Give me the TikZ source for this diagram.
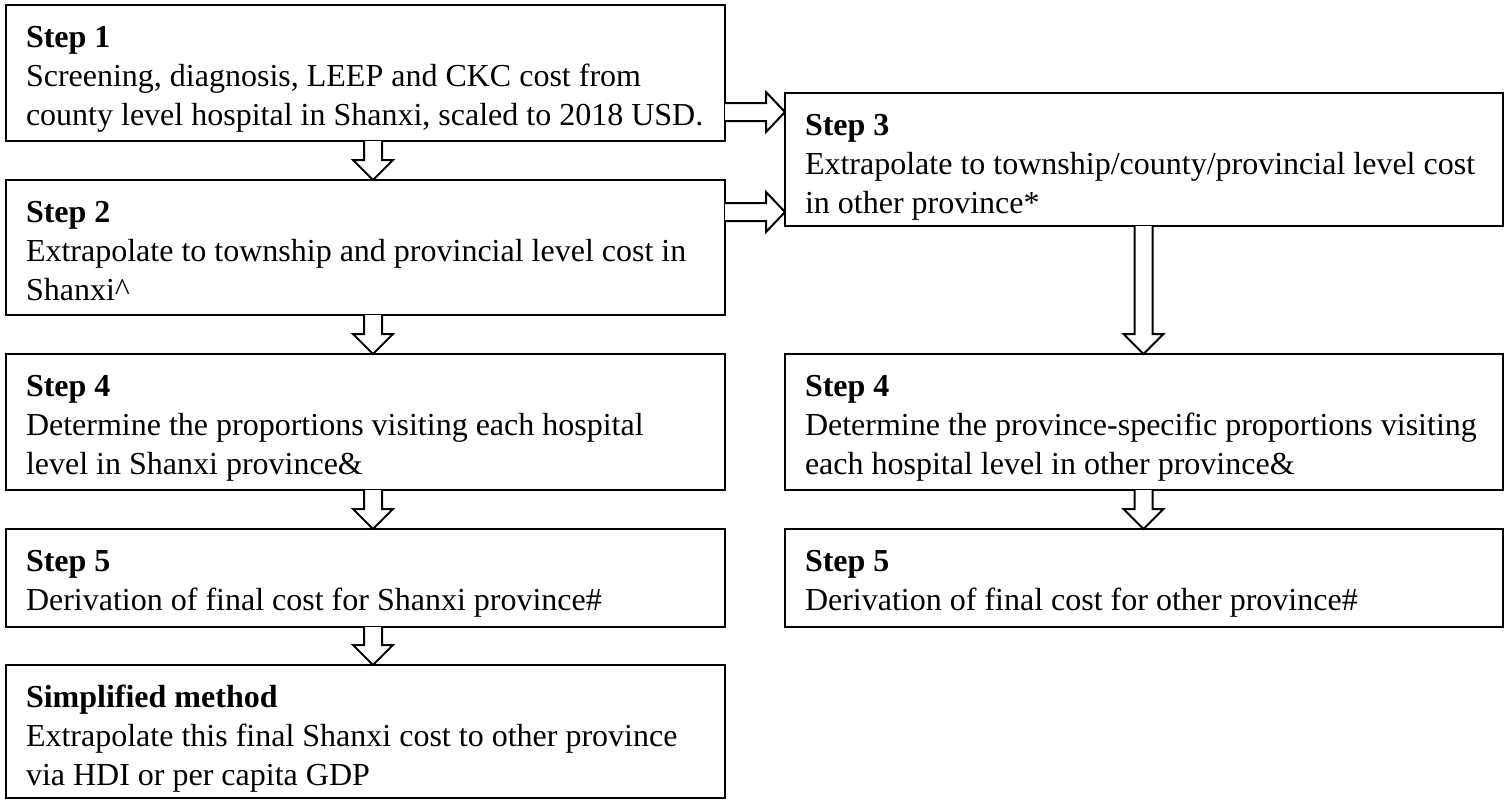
\documentclass[tikz,border=0pt]{standalone}
\usepackage{fontspec}
\setmainfont{Liberation Serif}
\usetikzlibrary{calc}
\tikzset{
  box/.style={draw=black, line width=1pt, inner sep=0pt, outer sep=0pt, rectangle},
  txt/.style={anchor=base west, inner sep=0pt, outer sep=0pt, font=\fontsize{16pt}{19.5pt}\selectfont},
  blk/.style={draw=black, line width=1pt, fill=white, line join=miter}
}
\newcommand\vblockarrow[3]{%
  \draw[blk] let \p1=(#1.south), \p2=(#2.north) in
    (#3*0.5pt-4.5pt,\y1) -- (#3*0.5pt-4.5pt,\y2+10pt) -- (#3*0.5pt-10pt,\y2+10pt) --
    (#3*0.5pt,\y2) -- (#3*0.5pt+10pt,\y2+10pt) -- (#3*0.5pt+4.5pt,\y2+10pt) -- (#3*0.5pt+4.5pt,\y1);
}
\newcommand\hblockarrow[3]{%
  \draw[blk] let \p1=(#1.east), \p2=(#2.west) in
    (\x1,-#3*0.5pt+4.5pt) -- (\x2-9.5pt,-#3*0.5pt+4.5pt) -- (\x2-9.5pt,-#3*0.5pt+10pt) --
    (\x2,-#3*0.5pt) -- (\x2-9.5pt,-#3*0.5pt-10pt) -- (\x2-9.5pt,-#3*0.5pt-4.5pt) -- (\x1,-#3*0.5pt-4.5pt);
}
\begin{document}
\begin{tikzpicture}[x=0.5pt,y=-0.5pt]
\useasboundingbox (0,0) rectangle (1509,800);
% left column boxes
\node[box, minimum width=359.5pt, minimum height=68pt]   (b1) at (365.5,73) {};
\node[box, minimum width=359.5pt, minimum height=67.5pt] (b2) at (365.5,247.5) {};
\node[box, minimum width=359.5pt, minimum height=68pt]   (b4) at (365.5,422) {};
\node[box, minimum width=359.5pt, minimum height=49pt]   (b5) at (365.5,578) {};
\node[box, minimum width=359.5pt, minimum height=66.5pt] (bs) at (365.5,731.5) {};
% right column boxes
\node[box, minimum width=359pt, minimum height=66.5pt]   (b3) at (1144,159.5) {};
\node[box, minimum width=359pt, minimum height=68pt]     (r4) at (1144,422) {};
\node[box, minimum width=359pt, minimum height=49pt]     (r5) at (1144,578) {};
% texts
\node[txt] (t1a) at (26,47)  {\textbf{Step 1}};
\node[txt] (t1b) at (26,86)  {Screening, diagnosis, LEEP and CKC cost from};
\node[txt] (t1c) at (26,125) {county level hospital in Shanxi, scaled to 2018 USD.};
\node[txt] (t2a) at (26,222) {\textbf{Step 2}};
\node[txt] (t2b) at (26,261) {Extrapolate to township and provincial level cost in};
\node[txt] (t2c) at (26,300) {Shanxi\textasciicircum};
\node[txt] (t4a) at (26,396) {\textbf{Step 4}};
\node[txt] (t4b) at (26,435) {Determine the proportions visiting each hospital};
\node[txt] (t4c) at (26,474) {level in Shanxi province\&};
\node[txt] (t5a) at (26,571) {\textbf{Step 5}};
\node[txt] (t5b) at (26,610) {Derivation of final cost for Shanxi province\#};
\node[txt] (tsa) at (26,707) {\textbf{Simplified method}};
\node[txt] (tsb) at (26,746) {Extrapolate this final Shanxi cost to other province};
\node[txt] (tsc) at (26,785) {via HDI or per capita GDP};
\node[txt] (t3a) at (805,135) {\textbf{Step 3}};
\node[txt] (t3b) at (805,174) {Extrapolate to township/county/provincial level cost};
\node[txt] (t3c) at (805,213) {in other province*};
\node[txt] (r4a) at (805,396) {\textbf{Step 4}};
\node[txt] (r4b) at (805,435) {Determine the province-specific proportions visiting};
\node[txt] (r4c) at (805,474) {each hospital level in other province\&};
\node[txt] (r5a) at (805,571) {\textbf{Step 5}};
\node[txt] (r5b) at (805,610) {Derivation of final cost for other province\#};
% arrows
\vblockarrow{b1}{b2}{373}
\vblockarrow{b2}{b4}{373}
\vblockarrow{b4}{b5}{373}
\vblockarrow{b5}{bs}{373}
\vblockarrow{b3}{r4}{1143.5}
\vblockarrow{r4}{r5}{1143.5}
\hblockarrow{b1}{b3}{112}
\hblockarrow{b2}{b3}{212}
\end{tikzpicture}
\end{document}
